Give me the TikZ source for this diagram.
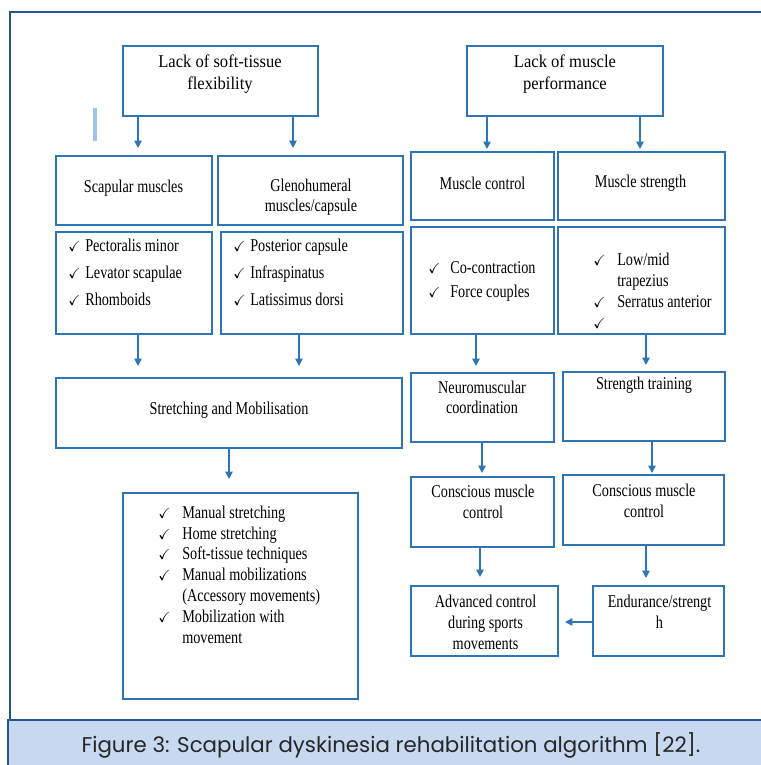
\documentclass[tikz,border=0pt]{standalone}
\usepackage{amssymb}
\usepackage{fontspec}
\newfontfamily\boxfont{Liberation Serif}[FakeStretch=0.79]
\newfontfamily\headfont{Liberation Serif}[FakeStretch=0.92]
\newfontfamily\capfont{Poppins}
\usetikzlibrary{arrows.meta,positioning}
\definecolor{boxblue}{RGB}{46,117,182}
\definecolor{frameblue}{RGB}{41,84,145}
\definecolor{capfill}{RGB}{198,217,241}
\definecolor{barblue}{RGB}{157,195,230}
\newcommand\ck[1][12.75pt]{\makebox[#1][l]{\fontsize{11}{11}\selectfont$\boldsymbol{\checkmark}$}}
\newcommand\nock[1][12.75pt]{\hspace*{#1}}
\tikzset{
  box/.style 2 args={draw=boxblue, line width=1.5pt, minimum width=#1*0.75pt, minimum height=#2*0.75pt, inner sep=0pt},
  txt/.style={font=\boxfont\fontsize{13.5}{15.5}\selectfont, align=center, inner sep=0pt},
  head/.style={font=\headfont\fontsize{13.5}{16.5}\selectfont, align=center, inner sep=0pt},
  % base of a list node = baseline of its last line
  lst/.style={font=\boxfont\fontsize{13.5}{#1}\selectfont, align=left, anchor=base west, inner sep=0pt},
  arr/.style={boxblue, line width=1.1pt, -{Triangle[length=5.5pt,width=5.5pt]}},
}
\usepackage{amsmath}
\begin{document}
\begin{tikzpicture}[x=0.75pt,y=-0.75pt]
  \clip (0,0) rectangle (761,765);
  % frame and caption band
  \draw[frameblue, line width=1.6pt] (10,725) -- (10,12) -- (770,12);
  \fill[capfill] (8,720) rectangle (770,770);
  \draw[frameblue, line width=1.6pt] (8,770) -- (8,720) -- (770,720);
  \fill[barblue] (93,108) rectangle (97,141);
  % boxes
  \foreach \n/\x/\y/\w/\h in {lsf/220.5/81/195/70, lmp/565/81/196/70,
      scap/134/190.5/156/69, glen/310.5/190.5/185/69, mctl/482.5/186/143/68, mstr/641.5/186/167/68,
      scl/134/283/156/102, gll/312/283/182/102, mcl/482.5/280.5/143/107, msl/641.5/280.5/167/107,
      stm/229/413/346/70, man/240.5/596/235/206, neuro/482.5/407.5/143/69, strt/644/406.5/162/69,
      cmc1/482.5/512/143/70, cmc2/643.5/510/161/70, adv/484.5/621/147/70, endu/658.5/621/131/70}
    \node[box={\w}{\h}] (\n) at (\x,\y) {};
  \node[head] (lsf-t) at (220,74) {Lack of soft-tissue\\flexibility};
  \node[head] (lmp-t) at (565,74) {Lack of muscle\\performance};
  \foreach \n/\x/\y/\t in {scap/133.5/188/{Scapular muscles}, glen/311/197/{Glenohumeral\\muscles/capsule},
      mctl/482.5/183/{Muscle control}, mstr/640.5/183/{Muscle strength},
      stm/229/410/{Stretching and Mobilisation}, neuro/482/397.5/{Neuromuscular\\coordination},
      strt/644/385/{Strength training}, cmc1/483/502/{Conscious muscle\\control},
      cmc2/644/501/{Conscious muscle\\control}, adv/485.5/622.5/{Advanced control\\during sports\\movements},
      endu/659.5/612/{Endurance/strengt\\h}}
    \node[txt] (\n-t) at (\x,\y) {\t};
  % check lists
  \node[lst=20.25] (scl-t) at (68,305) {\ck Pectoralis minor\\\ck Levator scapulae\\\ck Rhomboids};
  \node[lst=20.25] (gll-t) at (233,305) {\ck Posterior capsule\\\ck Infraspinatus\\\ck Latissimus dorsi};
  \node[lst=18] (mcl-t) at (428,297) {\ck[16.5pt]Co-contraction\\\ck[16.5pt]Force couples};
  \node[lst=15.75] (msl-t) at (593,328) {\ck[18pt]Low/mid\\\nock[18pt]trapezius\\\ck[18pt]Serratus anterior\\\ck[18pt]};
  \node[lst=15.6] (man-t) at (158,643) {\ck[18pt]Manual stretching\\\ck[18pt]Home stretching\\\ck[18pt]Soft-tissue techniques\\
    \ck[18pt]Manual mobilizations\\\nock[18pt](Accessory movements)\\\ck[18pt]Mobilization with\\\nock[18pt]movement};
  % arrows
  \foreach \a/\b/\x/\g in {lsf/scap/138/7, lsf/glen/293/7, lmp/mctl/487/2, lmp/mstr/640/2,
      scl/stm/138/11, gll/stm/299/11, mcl/neuro/476/6, msl/strt/646/6, stm/man/229/13,
      neuro/cmc1/482/3, strt/cmc2/652/1, cmc1/adv/480/8, cmc2/endu/646/7}
    \draw[arr, shorten >=\g*0.75pt] (\x,0 |- \a.south) -- (\x,0 |- \b.north);
  \draw[arr, shorten >=4.5pt] (endu.west |- 0,622) -- (adv.east |- 0,622);
  \node[font=\capfont\fontsize{16}{18}\selectfont, text=black!85] (cap) at (391,745) {Figure 3: Scapular dyskinesia rehabilitation algorithm [22].};
\end{tikzpicture}
\end{document}
